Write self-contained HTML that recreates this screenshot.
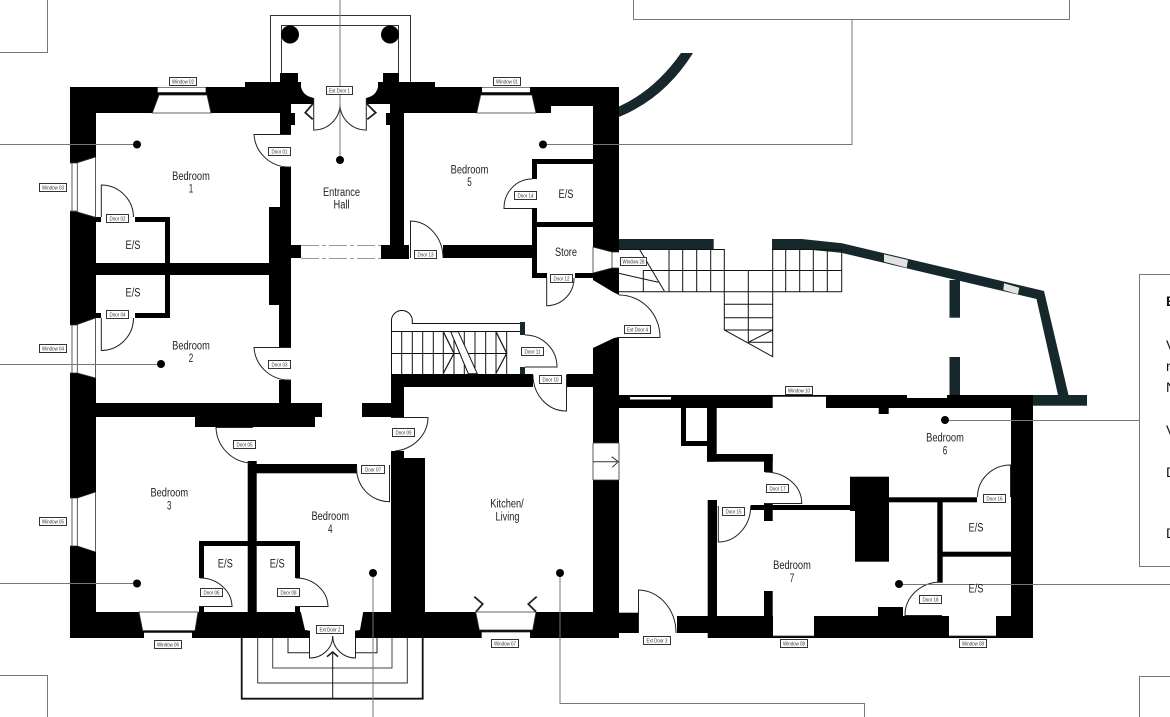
<!DOCTYPE html>
<html>
<head>
<meta charset="utf-8">
<title>Ground Floor Plan</title>
<style>
html,body{margin:0;padding:0;background:#fff;width:1170px;height:717px;overflow:hidden}
svg{display:block}
text{font-family:"Liberation Sans",sans-serif}
.r text{font-size:11.5px;fill:#222;text-anchor:middle}
.l rect{fill:#fff;stroke:#333;stroke-width:1}
.l text{font-size:5.2px;fill:#333;text-anchor:middle}
</style>
</head>
<body>
<svg width="1170" height="717" viewBox="0 0 1170 717" xmlns="http://www.w3.org/2000/svg">
<rect width="1170" height="717" fill="#fff"/>

<!-- info boxes -->
<g fill="none" stroke="#777" stroke-width="1">
<path d="M0 52.500H47.500V0"/>
<path d="M633.500 0V19.500H1069.500V0"/>
<path d="M1170 274.500H1139.500V566.500H1170"/>
<path d="M0 675.500H47.500V717"/>
<path d="M1139.500 717V676.500H1170"/>
</g>
<g font-size="14" fill="#111">
<text x="1166" y="306" font-weight="bold">E</text>
<text x="1166" y="350">V</text>
<text x="1166" y="371">r</text>
<text x="1166" y="392">N</text>
<text x="1166" y="435">V</text>
<text x="1166" y="477">D</text>
<text x="1166" y="538">D</text>
</g>

<!-- portico -->
<g fill="none" stroke="#333" stroke-width="1">
<path d="M270.500 82V15.500H410.500V82"/>
<path d="M281.500 73V25.500H398.500V73"/>
</g>
<circle cx="290" cy="34.500" r="9" fill="#000"/>
<circle cx="390" cy="34.500" r="9" fill="#000"/>

<!-- teal extension -->
<g fill="#16282c">
<path d="M619 106.500Q655 90 681 53H693Q665 98 619 117Z"/>
<rect x="619" y="239" width="94.700" height="10"/>
<path d="M772 239H801.700L842 243.300L1044 291L1068.500 395H1058L1036.500 299L841 252.700L801.700 249H772Z"/>
<rect x="949.500" y="280" width="10.500" height="37.700"/>
<rect x="949.500" y="357" width="10.500" height="40"/>
<rect x="1032" y="395" width="55" height="10.700"/>
<rect x="520" y="322" width="5" height="13"/>
<rect x="520" y="367" width="5" height="7"/>
</g>
<g fill="#e2e2e2">
<path d="M884 254.300L908 260L906.700 267.700L884 261.700Z"/>
<path d="M1004 283.300L1019.300 287.700L1018 294.300L1003.300 290Z"/>
</g>

<!-- black walls -->
<g fill="#000">
<rect x="70" y="87" width="26" height="551"/>
<rect x="70" y="87" width="481" height="26"/>
<rect x="551" y="87" width="68" height="19"/>
<rect x="70" y="612" width="549" height="26"/>
<rect x="245" y="82" width="53" height="5"/>
<rect x="280" y="73" width="18" height="10"/>
<rect x="298" y="82" width="3" height="6"/>
<rect x="383" y="73" width="16" height="10"/>
<rect x="383" y="82" width="52" height="5"/>
<rect x="378" y="82" width="5" height="6"/>
<!-- right wall of main block -->
<path d="M593 87H619V295L613 292L593 280V273L612 268V252L593 247Z"/>
<path d="M593 348L614 338L619 337V443H593Z"/>
<rect x="593" y="480" width="26" height="158"/>
<!-- hall walls -->
<rect x="280" y="113" width="11" height="21"/>
<rect x="291" y="110" width="4" height="15"/>
<rect x="386" y="110" width="4" height="15"/>
<rect x="280" y="167" width="11" height="40"/>
<rect x="269" y="207" width="22" height="98"/>
<rect x="279" y="305" width="12" height="42"/>
<rect x="279" y="380" width="12" height="24"/>
<rect x="291" y="245" width="10" height="13"/>
<rect x="390" y="113" width="14" height="133"/>
<rect x="381" y="245" width="28" height="14"/>
<!-- bedroom 5 side -->
<rect x="443" y="245" width="90" height="13"/>
<rect x="532" y="159" width="61" height="5"/>
<rect x="532" y="159" width="5" height="20"/>
<rect x="532" y="208" width="5" height="70"/>
<rect x="532" y="222" width="61" height="5"/>
<rect x="532" y="273" width="15" height="5"/>
<rect x="575" y="273" width="18" height="5"/>
<!-- left side E/S -->
<rect x="96" y="263" width="173" height="12"/>
<rect x="165" y="217" width="5" height="46"/>
<rect x="135" y="217" width="35" height="5"/>
<rect x="96" y="217" width="5" height="5"/>
<rect x="165" y="275" width="5" height="43"/>
<rect x="135" y="313" width="35" height="5"/>
<rect x="96" y="313" width="5" height="5"/>
<!-- centre horizontal -->
<rect x="96" y="403" width="226" height="14"/>
<rect x="195" y="417" width="120" height="10"/>
<rect x="362" y="403" width="42" height="14"/>
<rect x="391" y="374" width="13" height="43"/>
<rect x="391" y="374" width="142" height="13"/>
<rect x="566.700" y="374" width="27" height="13"/>
<!-- kitchen wall -->
<rect x="391" y="451" width="13" height="8"/>
<rect x="391" y="458" width="34" height="155"/>
<!-- bedroom 3/4 -->
<rect x="247.700" y="461" width="9" height="152"/>
<rect x="256" y="464" width="101" height="9.300"/>
<rect x="199" y="541" width="101" height="5"/>
<rect x="199" y="541" width="5" height="37"/>
<rect x="295" y="541" width="5" height="37"/>
<rect x="199" y="606" width="5" height="7"/>
<rect x="295" y="606" width="5" height="7"/>
<!-- east wing -->
<rect x="619" y="612.700" width="19" height="20.300"/>
<rect x="677" y="616" width="31" height="17"/>
<rect x="707.700" y="616" width="325.300" height="22"/>
<rect x="707.700" y="500" width="9.300" height="116"/>
<rect x="619" y="395" width="414" height="13"/>
<rect x="907" y="395" width="40" height="3" fill="#fff"/>
<rect x="1011" y="395" width="22" height="243"/>
<rect x="878.700" y="408" width="10" height="6"/>
<rect x="681" y="408" width="5" height="38"/>
<rect x="681" y="441" width="26" height="5"/>
<rect x="707" y="408" width="9.700" height="53.700"/>
<rect x="707" y="454" width="65.700" height="7.700"/>
<rect x="764" y="454" width="8.700" height="18"/>
<rect x="750.700" y="505" width="104.300" height="5"/>
<rect x="764" y="503" width="8.700" height="18"/>
<rect x="850" y="476.700" width="39" height="34.300"/>
<rect x="855" y="511" width="34" height="50.700"/>
<rect x="889" y="497.300" width="88" height="5"/>
<rect x="937.300" y="502" width="5.400" height="80.700"/>
<rect x="942" y="551.700" width="69" height="5"/>
<rect x="764" y="591" width="8.700" height="25"/>
<rect x="878" y="607" width="25" height="9"/>
</g>

<!-- white openings -->
<g fill="#fff">
<path d="M301 87Q303 96 314 98V104H366V98Q376 96 378 87Z"/>
<rect x="291" y="104" width="99" height="9"/>
<path d="M95.500 157L77.300 162.700V212L95.500 217.300H96.500V157Z"/>
<rect x="70" y="163" width="7.300" height="48.500"/>
<path d="M95.500 318L77.300 324.500V373L95.500 378H96.500V318Z"/>
<rect x="70" y="325" width="7.300" height="48"/>
<path d="M95.500 492L77.300 498V546L95.500 552H96.500V492Z"/>
<rect x="70" y="498" width="7.300" height="48"/>
<path d="M152.300 113.500L159 95H207L211 113.500Z"/>
<rect x="157.700" y="87.500" width="48" height="5"/>
<path d="M476.700 113.500L480.700 95H532L536 113.500Z"/>
<rect x="482" y="87.500" width="48" height="5"/>
<path d="M139 611.500L142.700 630.700H195L198 611.500Z"/>
<rect x="144" y="632.500" width="48" height="5.500"/>
<path d="M475.700 611.500L479.300 630H532.700L536 611.500Z"/>
<rect x="481.700" y="632" width="48.300" height="6"/>
<path d="M300.700 611.500L305 630L310 630.700V638.500H355V630.700L360 630L363.300 611.500Z"/>
<path d="M593 247L612 252V268L593 273Z"/>
<rect x="612" y="252" width="7" height="16"/>
<rect x="593" y="443" width="26" height="37"/>
<rect x="630" y="397" width="41" height="2.500"/>
<rect x="772.700" y="396.500" width="53.300" height="12"/>
<rect x="773" y="616" width="41" height="20"/>
<rect x="949" y="616" width="47" height="20"/>
</g>

<!-- thin outlines around windows and openings -->
<g fill="none" stroke="#333" stroke-width="0.800">
<path d="M95.500 157L77.300 162.700V212L95.500 217.300V157M72 163V211M70 163H77M70 211H77"/>
<path d="M95.500 318L77.300 324.500V373L95.500 378V318M72 325V373M70 325H77M70 373H77"/>
<path d="M95.500 492L77.300 498V546L95.500 552V492M72 498V546M70 498H77M70 546H77"/>
<path d="M152.300 113L159 95H207L211 113ZM157.700 92.500H205.700"/>
<path d="M476.700 113L480.700 95H532L536 113ZM482 92.500H530"/>
<path d="M139 612L142.700 630.700H195L198 612ZM144 632.500H192"/>
<path d="M475.700 612L479.300 630H532.700L536 612ZM481.700 632H530"/>
<path d="M593 443V480M619 443V480M593 443H619M593 480H619"/>
<path d="M593 247L612 252V268L593 273ZM612 252H619M612 268H619"/>
<path d="M772.700 396.500H826M773 636H814M949 636H996"/>
</g>

<!-- doors -->
<g fill="none" stroke="#222" stroke-width="1">
<path d="M291 134.500H254A35 35 0 0 0 288 167H291"/>
<path d="M291 347.500H254A35 35 0 0 0 288 380H291"/>
<path d="M101.300 217V185A32.500 32.500 0 0 1 133.500 217"/>
<path d="M101.300 318V350.500A32.500 32.500 0 0 0 133.500 318"/>
<path d="M313.700 98V130A26 26 0 0 0 340 104"/>
<path d="M366.300 98V130A26 26 0 0 1 340 104"/>
<path d="M253 427.500H216A37 37 0 0 0 250 463"/>
<path d="M391 417.500H428A37 34 0 0 1 395 451"/>
<path d="M389.500 465V501.700A33 33 0 0 1 356.700 466"/>
<path d="M199 606.500H232A32 29 0 0 0 200 578"/>
<path d="M295 606.500H328A32 29 0 0 0 296 578"/>
<path d="M309.500 638V658A23 22 0 0 0 332.700 636"/>
<path d="M355.500 638V658A23 22 0 0 1 332.700 636"/>
<path d="M410.500 258V221A33 37 0 0 1 443 258"/>
<path d="M532 208.500H504A28 29 0 0 1 532 179"/>
<path d="M546.700 278V305.700A27.500 27.500 0 0 0 574 278"/>
<path d="M525 335A32 32 0 0 1 557 367H525"/>
<path d="M566.500 375V411A33 36 0 0 1 533 375"/>
<path d="M619 295A41 42 0 0 1 660 337.500H619"/>
<path d="M638.500 633V590A38 43 0 0 1 676 633"/>
<path d="M765 472A36.700 31 0 0 1 801.700 503.500H765"/>
<path d="M718.300 506V542A32.500 36 0 0 0 750.700 506"/>
<path d="M1010.500 497V465A33 32 0 0 0 977.500 497"/>
<path d="M942 615.500H905A36 33 0 0 1 940 582"/>
</g>
<g fill="none" stroke="#222" stroke-width="1.800">
<path d="M312.700 104L305.300 112.700L312.700 119.300"/>
<path d="M367 104L375.700 112.700L367.300 119.300"/>
<path d="M474.300 596.700L482.700 604L476 611.700"/>
<path d="M536.700 596.700L528.300 604L536 611.700"/>
</g>
<path d="M593 461.700H617M611.700 456.700L618.300 461.700L612.300 467.300" fill="none" stroke="#333" stroke-width="1"/>

<!-- dashed lines in hall -->
<path d="M301 245.500H381M301 258.500H381" stroke="#999" stroke-width="1" stroke-dasharray="18 3 4 3" fill="none"/>

<!-- entrance steps -->
<g fill="none">
<path d="M241.700 638V698.700H422.700V638" stroke="#111" stroke-width="1.800"/>
<path d="M257.700 638V683H407.300V638" stroke="#333" stroke-width="1"/>
<path d="M272.700 638V668H392V638" stroke="#444" stroke-width="1"/>
<path d="M288 638V652.700H309M355 652.700H377V638" stroke="#222" stroke-width="1"/>
<path d="M332.700 698.700V652" stroke="#111" stroke-width="1"/>
<path d="M327 656.700L332.700 652L338 656.700" stroke="#111" stroke-width="1.500"/>
</g>

<!-- stairs left -->
<g fill="none" stroke="#111" stroke-width="1">
<path d="M391.500 331V319.500A10.500 10.500 0 0 1 412.300 319.500V323.500H520"/>
<path d="M391 331.500H520M391 353.500H506.700"/>
<path d="M391.500 331V374M401.700 331V374M412.300 331V374M422.700 331V374M433.300 331V374M443.300 331V374M454 331V374M464.300 331V374M475 331V374M485.700 331V374M496 331V374M506.700 331V374"/>
</g>
<path d="M450.700 331.700L458.300 331.700L477.300 373.700H468.300Z" fill="#fff" stroke="#111" stroke-width="1"/>
<g fill="none" stroke="#16282c" stroke-width="1.300">
<path d="M443.300 331.700L454 353.300L443.300 373.300"/>
<path d="M496 331.700L506.700 353.300L496 373.300"/>
</g>

<!-- stairs right -->
<g fill="none" stroke="#111" stroke-width="1">
<path d="M619 249.500H724.300M772 249.500H841.700"/>
<path d="M643.300 270.500H841.700"/>
<path d="M619 291.700H841.700"/>
<path d="M669 249V291.700M682.700 249V291.700M696.700 249V291.700M710.700 249V291.700M643.300 270V291.700"/>
<path d="M785.700 249V291.700M799.700 249V291.700M813.300 249V291.700M827.300 249V291.700M841.700 249V291.700"/>
<path d="M724.300 249V330L772.700 356.700V249"/>
<path d="M748.300 270V342.300"/>
<path d="M724.300 304.300H772.700M724.300 317.700H772.700M724.300 330H772.700"/>
<path d="M748.300 342.300L772.700 330M748.300 342.300H772.700"/>
<path d="M639.300 249L664.300 291"/>
<path d="M618.700 273.300L658.300 282.300"/>
</g>

<!-- leader lines -->
<g fill="none" stroke="#777" stroke-width="1">
<path d="M340 0V160"/>
<path d="M0 144.500H137"/>
<path d="M0 364.500H161"/>
<path d="M0 583.500H137"/>
<path d="M543 144.500H852V20"/>
<path d="M945 420.500H1139"/>
<path d="M899 584.500H1170"/>
<path d="M373 573V717"/>
<path d="M560 573V703.500H864.500V717"/>
</g>
<g fill="#000">
<circle cx="340" cy="160" r="4"/>
<circle cx="137" cy="144.500" r="4"/>
<circle cx="161" cy="364" r="4"/>
<circle cx="137" cy="583.500" r="4"/>
<circle cx="543" cy="144.500" r="4"/>
<circle cx="945" cy="420" r="4"/>
<circle cx="899" cy="584" r="4"/>
<circle cx="373" cy="573" r="4"/>
<circle cx="560" cy="573" r="4"/>
</g>

<!-- room labels -->
<g class="r">
<text x="191" y="180" textLength="37.700" lengthAdjust="spacingAndGlyphs">Bedroom</text><text x="191" y="192.700" textLength="4.500" lengthAdjust="spacingAndGlyphs">1</text>
<text x="341.500" y="196" textLength="37" lengthAdjust="spacingAndGlyphs">Entrance</text><text x="341.500" y="208.700" textLength="16" lengthAdjust="spacingAndGlyphs">Hall</text>
<text x="469.500" y="173.300" textLength="37.700" lengthAdjust="spacingAndGlyphs">Bedroom</text><text x="469.500" y="186" textLength="4.500" lengthAdjust="spacingAndGlyphs">5</text>
<text x="566" y="198" textLength="15" lengthAdjust="spacingAndGlyphs">E/S</text>
<text x="566" y="256" textLength="22" lengthAdjust="spacingAndGlyphs">Store</text>
<text x="133" y="249" textLength="15" lengthAdjust="spacingAndGlyphs">E/S</text>
<text x="133" y="296.700" textLength="15" lengthAdjust="spacingAndGlyphs">E/S</text>
<text x="191" y="349.300" textLength="37.700" lengthAdjust="spacingAndGlyphs">Bedroom</text><text x="191" y="362" textLength="4.500" lengthAdjust="spacingAndGlyphs">2</text>
<text x="169.300" y="496.700" textLength="37.700" lengthAdjust="spacingAndGlyphs">Bedroom</text><text x="169.300" y="509.300" textLength="4.500" lengthAdjust="spacingAndGlyphs">3</text>
<text x="330.300" y="520" textLength="37.700" lengthAdjust="spacingAndGlyphs">Bedroom</text><text x="330.300" y="533" textLength="4.500" lengthAdjust="spacingAndGlyphs">4</text>
<text x="225.300" y="567.700" textLength="15" lengthAdjust="spacingAndGlyphs">E/S</text>
<text x="277.200" y="567.700" textLength="15" lengthAdjust="spacingAndGlyphs">E/S</text>
<text x="507" y="507.700" textLength="33.500" lengthAdjust="spacingAndGlyphs">Kitchen/</text><text x="507.500" y="520.500" textLength="24" lengthAdjust="spacingAndGlyphs">Living</text>
<text x="945" y="441.700" textLength="37.700" lengthAdjust="spacingAndGlyphs">Bedroom</text><text x="945" y="454.500" textLength="4.500" lengthAdjust="spacingAndGlyphs">6</text>
<text x="792" y="569" textLength="37.700" lengthAdjust="spacingAndGlyphs">Bedroom</text><text x="792" y="582" textLength="4.500" lengthAdjust="spacingAndGlyphs">7</text>
<text x="976" y="531.700" textLength="15" lengthAdjust="spacingAndGlyphs">E/S</text>
<text x="976" y="592.700" textLength="15" lengthAdjust="spacingAndGlyphs">E/S</text>
</g>

<!-- tags -->
<g class="l">
<rect x="169.500" y="77.500" width="27" height="8"/><text x="183" y="83.300" textLength="22" lengthAdjust="spacingAndGlyphs">Window 02</text>
<rect x="493.500" y="77.500" width="27" height="8"/><text x="507" y="83.300" textLength="22" lengthAdjust="spacingAndGlyphs">Window 01</text>
<rect x="39.500" y="183.500" width="27" height="8"/><text x="53" y="189.300" textLength="22" lengthAdjust="spacingAndGlyphs">Window 03</text>
<rect x="39.500" y="344.500" width="27" height="8"/><text x="53" y="350.300" textLength="22" lengthAdjust="spacingAndGlyphs">Window 04</text>
<rect x="39.500" y="517.500" width="27" height="8"/><text x="53" y="523.300" textLength="22" lengthAdjust="spacingAndGlyphs">Window 05</text>
<rect x="154.500" y="640.500" width="27" height="8"/><text x="168" y="646.300" textLength="22" lengthAdjust="spacingAndGlyphs">Window 06</text>
<rect x="491.500" y="639.500" width="27" height="8"/><text x="505" y="645.300" textLength="22" lengthAdjust="spacingAndGlyphs">Window 07</text>
<rect x="780.500" y="639.500" width="27" height="8"/><text x="794" y="645.300" textLength="22" lengthAdjust="spacingAndGlyphs">Window 08</text>
<rect x="959.500" y="639.500" width="27" height="8"/><text x="973" y="645.300" textLength="22" lengthAdjust="spacingAndGlyphs">Window 08</text>
<rect x="785.500" y="386.500" width="27" height="8"/><text x="799" y="392.300" textLength="22" lengthAdjust="spacingAndGlyphs">Window 10</text>
<rect x="620.500" y="257.500" width="26" height="8"/><text x="633.500" y="263.300" textLength="22" lengthAdjust="spacingAndGlyphs">Window 28</text>
<rect x="326.500" y="86.500" width="26" height="8"/><text x="339.500" y="92.300" textLength="21" lengthAdjust="spacingAndGlyphs">Ext Door 1</text>
<rect x="316.500" y="625.500" width="27" height="8"/><text x="330" y="631.300" textLength="21" lengthAdjust="spacingAndGlyphs">Ext Door 2</text>
<rect x="643.500" y="636.500" width="27" height="8"/><text x="657" y="642.300" textLength="21" lengthAdjust="spacingAndGlyphs">Ext Door 3</text>
<rect x="624.500" y="325.500" width="26" height="8"/><text x="637.500" y="331.300" textLength="21" lengthAdjust="spacingAndGlyphs">Ext Door 4</text>
<rect x="268.500" y="147.500" width="22" height="8"/><text x="279.500" y="153.300" textLength="16" lengthAdjust="spacingAndGlyphs">Door 01</text>
<rect x="106.500" y="214.500" width="22" height="8"/><text x="117.500" y="220.300" textLength="16" lengthAdjust="spacingAndGlyphs">Door 02</text>
<rect x="268.500" y="360.500" width="22" height="8"/><text x="279.500" y="366.300" textLength="16" lengthAdjust="spacingAndGlyphs">Door 03</text>
<rect x="106.500" y="310.500" width="22" height="8"/><text x="117.500" y="316.300" textLength="16" lengthAdjust="spacingAndGlyphs">Door 04</text>
<rect x="233.500" y="440.500" width="22" height="8"/><text x="244.500" y="446.300" textLength="16" lengthAdjust="spacingAndGlyphs">Door 05</text>
<rect x="200.500" y="588.500" width="22" height="8"/><text x="211.500" y="594.300" textLength="16" lengthAdjust="spacingAndGlyphs">Door 06</text>
<rect x="361.500" y="465.500" width="23" height="8"/><text x="373" y="471.300" textLength="16" lengthAdjust="spacingAndGlyphs">Door 07</text>
<rect x="277.500" y="588.500" width="22" height="8"/><text x="288.500" y="594.300" textLength="16" lengthAdjust="spacingAndGlyphs">Door 08</text>
<rect x="392.500" y="428.500" width="22" height="8"/><text x="403.500" y="434.300" textLength="16" lengthAdjust="spacingAndGlyphs">Door 09</text>
<rect x="539.500" y="375.500" width="22" height="8"/><text x="550.500" y="381.300" textLength="16" lengthAdjust="spacingAndGlyphs">Door 10</text>
<rect x="521.500" y="347.500" width="22" height="8"/><text x="532.500" y="353.300" textLength="16" lengthAdjust="spacingAndGlyphs">Door 11</text>
<rect x="550.500" y="274.500" width="22" height="8"/><text x="561.500" y="280.300" textLength="16" lengthAdjust="spacingAndGlyphs">Door 12</text>
<rect x="414.500" y="250.500" width="22" height="8"/><text x="425.500" y="256.300" textLength="16" lengthAdjust="spacingAndGlyphs">Door 13</text>
<rect x="514.500" y="191.500" width="22" height="8"/><text x="525.500" y="197.300" textLength="16" lengthAdjust="spacingAndGlyphs">Door 14</text>
<rect x="722.500" y="507.500" width="22" height="8"/><text x="733.500" y="513.300" textLength="16" lengthAdjust="spacingAndGlyphs">Door 15</text>
<rect x="983.500" y="494.500" width="22" height="8"/><text x="994.500" y="500.300" textLength="16" lengthAdjust="spacingAndGlyphs">Door 16</text>
<rect x="766.500" y="484.500" width="22" height="8"/><text x="777.500" y="490.300" textLength="16" lengthAdjust="spacingAndGlyphs">Door 17</text>
<rect x="919.500" y="595.500" width="22" height="8"/><text x="930.500" y="601.300" textLength="16" lengthAdjust="spacingAndGlyphs">Door 18</text>
</g>
</svg>
</body>
</html>
